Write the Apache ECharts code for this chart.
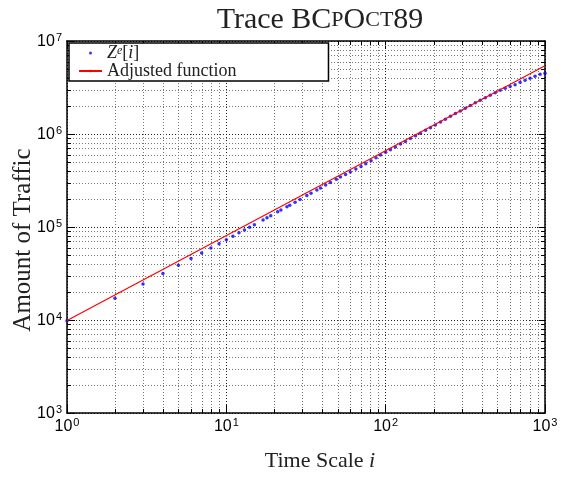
<!DOCTYPE html>
<html>
<head>
<meta charset="utf-8">
<script src="https://cdn.jsdelivr.net/npm/echarts@6/dist/echarts.min.js"></script>
<style>
html,body{margin:0;padding:0;background:#fff;}
#chart{width:565px;height:479px;}
</style>
</head>
<body>
<div id="chart"></div>
<script>
// Time scale i (x) and observed traffic Z^e[i] (y)
const scaleI = [1,2,3,4,5,6,7,8,9,10,11,12,13,14,15,17,18,19,21,22,24,25,27,29,32,34,37,39,42,45,49,52,56,60,65,70,75,81,87,93,100,107,115,124,133,143,154,165,178,191,205,221,237,255,274,294,316,340,365,392,422,453,487,523,562,604,649,698,750,806,866,931,1000];
const trafficZ = [9790,17160,24330,31650,38800,45720,52630,59590,66210,72890,79690,86490,92820,99080,105500,118900,125500,132200,145500,152100,165100,171800,184700,198100,217700,231100,250300,263300,282200,301300,326400,344600,367900,390900,419600,448000,478200,516600,555200,592800,636300,678500,726100,779800,833100,892000,956800,1021400,1094400,1170000,1250800,1345900,1441200,1547800,1657000,1771000,1896000,2027000,2163000,2303000,2458000,2616000,2782000,2949000,3099000,3235000,3389000,3591000,3790000,3972000,4183000,4387000,4514000];
// Adjusted (fitted) function endpoints
const fitX = [1, 1000];
const fitY = [9900, 5430000];
// Minor tick values
const xMinorTicks = [2,3,4,5,6,7,8,9,20,30,40,50,60,70,80,90,200,300,400,500,600,700,800,900];
const yMinorTicks = [2e3,3e3,4e3,5e3,6e3,7e3,8e3,9e3,2e4,3e4,4e4,5e4,6e4,7e4,8e4,9e4,2e5,3e5,4e5,5e5,6e5,7e5,8e5,9e5,2e6,3e6,4e6,5e6,6e6,7e6,8e6,9e6];
const xRange = [1, 1000];
const yRange = [1e3, 1e7];
const seriesNames = ['Z^e[i]', 'Adjusted function'];

const chart = echarts.init(document.getElementById('chart'), null, {renderer: 'canvas'});

const sansLbl = {
  b: {fontFamily: 'Liberation Sans', fontSize: 16, color: '#000', lineHeight: 18, verticalAlign: 'bottom'},
  s: {fontFamily: 'Liberation Sans', fontSize: 11, color: '#000', lineHeight: 18, verticalAlign: 'top', padding: [0,0,0,1]}
};
function expLabel(v) {
  const e = Math.round(Math.log10(v));
  return '{b|10}{s|' + e + '}';
}
const majorGrid = {show: true, lineStyle: {color: '#222', width: 1, type: [1, 2]}};
function mkAxis(pos, range, showLabel, isX) {
  return {
    type: 'log', logBase: 10, min: range[0], max: range[1], position: pos,
    axisLine: {show: true, onZero: false, lineStyle: {color: '#000', width: 1.5}},
    axisTick: {show: true, inside: true, length: 8, lineStyle: {color: '#000', width: 1}},
    minorTick: {show: false},
    splitLine: showLabel ? majorGrid : {show: false},
    axisLabel: {show: showLabel, formatter: expLabel, rich: sansLbl, margin: isX ? 4 : 5},
  };
}

function minorX(params, api) {
  const cs = params.coordSys;
  const x = Math.round(api.coord([api.value(0), yRange[0]])[0]) + 0.5;
  const y0 = cs.y, y1 = cs.y + cs.height;
  return {type: 'group', children: [
    {type: 'line', shape: {x1: x, y1: y0, x2: x, y2: y1}, style: {stroke: '#777', lineWidth: 1, lineDash: [1, 2]}},
    {type: 'line', shape: {x1: x, y1: y1, x2: x, y2: y1 - 4}, style: {stroke: '#000', lineWidth: 1}},
    {type: 'line', shape: {x1: x, y1: y0, x2: x, y2: y0 + 4}, style: {stroke: '#000', lineWidth: 1}}
  ]};
}
function minorY(params, api) {
  const cs = params.coordSys;
  const y = Math.round(api.coord([xRange[0], api.value(1)])[1]) + 0.5;
  const x0 = cs.x, x1 = cs.x + cs.width;
  return {type: 'group', children: [
    {type: 'line', shape: {x1: x0, y1: y, x2: x1, y2: y}, style: {stroke: '#777', lineWidth: 1, lineDash: [1, 2]}},
    {type: 'line', shape: {x1: x0, y1: y, x2: x0 + 4, y2: y}, style: {stroke: '#000', lineWidth: 1}},
    {type: 'line', shape: {x1: x1, y1: y, x2: x1 - 4, y2: y}, style: {stroke: '#000', lineWidth: 1}}
  ]};
}

const xAxes = [mkAxis('bottom', xRange, true, true), mkAxis('top', xRange, false, true)];
xAxes[0].name = '{n|Time Scale }{i|i}';
xAxes[0].nameLocation = 'middle';
xAxes[0].nameGap = 37;
xAxes[0].nameMoveOverlap = false;
xAxes[0].nameTextStyle = {padding: [0, 0, 0, 28], rich: {
  n: {fontFamily: 'Liberation Serif', fontSize: 22, color: '#222'},
  i: {fontFamily: 'Liberation Serif', fontStyle: 'italic', fontSize: 22, color: '#222'}
}};
const yAxes = [mkAxis('left', yRange, true, false), mkAxis('right', yRange, false, false)];
yAxes[0].name = 'Amount of Traffic';
yAxes[0].nameLocation = 'middle';
yAxes[0].nameGap = 31;
yAxes[0].nameMoveOverlap = false;
yAxes[0].nameTextStyle = {fontFamily: 'Liberation Serif', fontSize: 25, color: '#222', padding: [0, 26, 0, 0]};

const option = {
  animation: false,
  backgroundColor: '#fff',
  title: {
    text: 'Trace BC{sc|P}O{sc|CT}89',
    left: 315, top: 0, textAlign: 'center',
    textStyle: {fontFamily: 'Liberation Serif', fontSize: 30, fontWeight: 'normal', color: '#222',
      rich: {sc: {fontFamily: 'Liberation Serif', fontSize: 22, color: '#222'}}}
  },
  grid: {left: 67, right: 20, top: 41, bottom: 66, containLabel: false, outerBoundsMode: 'none'},
  legend: {
    orient: 'vertical', left: 69, top: 43,
    backgroundColor: '#fff', borderColor: '#000', borderWidth: 1.5, borderRadius: 0,
    padding: [1, 92, 1, 9], itemGap: 0, itemWidth: 23, itemHeight: 3,
    selectedMode: false,
    data: [{name: seriesNames[0], icon: 'circle'}, {name: seriesNames[1]}],
    formatter: function (name) {
      if (name === seriesNames[0]) return '{i|Z}{sup|e}{n|[}{i|i}{n|]}';
      return '{n|' + name + '}';
    },
    textStyle: {lineHeight: 17, rich: {
      n: {fontFamily: 'Liberation Serif', fontSize: 18, color: '#222', lineHeight: 17},
      i: {fontFamily: 'Liberation Serif', fontStyle: 'italic', fontSize: 18, color: '#222', lineHeight: 17},
      sup: {fontFamily: 'Liberation Serif', fontStyle: 'italic', fontSize: 12, color: '#222', lineHeight: 17, verticalAlign: 'top'}
    }}
  },
  xAxis: xAxes,
  yAxis: yAxes,
  series: [
    {type: 'custom', silent: true, renderItem: minorX, data: xMinorTicks.map(v => [v, yRange[0]]), z: 1, clip: false},
    {type: 'custom', silent: true, renderItem: minorY, data: yMinorTicks.map(v => [xRange[0], v]), z: 1, clip: false},
    {
      name: seriesNames[0], type: 'scatter', symbol: 'circle', symbolSize: 3.5,
      itemStyle: {color: '#0000ff'}, z: 3,
      data: scaleI.map((x, k) => [x, trafficZ[k]])
    },
    {
      name: seriesNames[1], type: 'line', symbol: 'none', showSymbol: false,
      lineStyle: {color: '#ff0000', width: 1.2}, itemStyle: {color: '#ff0000'}, z: 4,
      data: fitX.map((x, k) => [x, fitY[k]])
    }
  ]
};
chart.setOption(option);
</script>
</body>
</html>
